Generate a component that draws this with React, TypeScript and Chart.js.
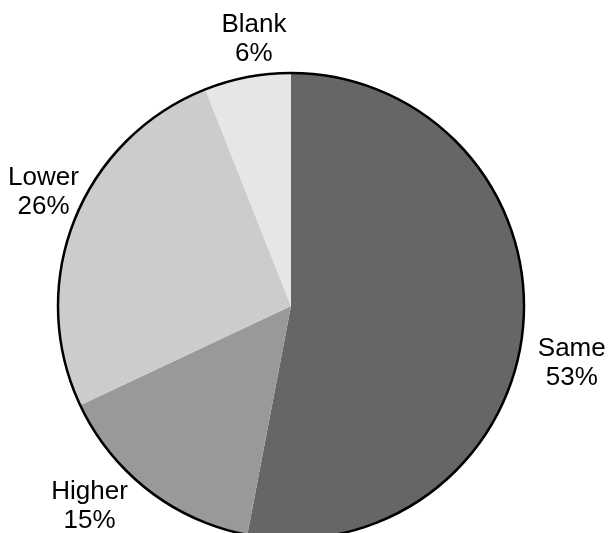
import React, { useEffect, useRef } from "react";
import { Chart, registerables } from "chart.js";

Chart.register(...registerables);

const categories = ["Same", "Higher", "Lower", "Blank"];
const shares = [53, 15, 26, 6];
const sliceColors = ["#666666", "#999999", "#cccccc", "#e6e6e6"];

// Extra shift (px) of each label block from its radial anchor
const labelShiftX = [4, -31, 11, 15];
const labelShiftY = [29, -21, -13, 4];

const W = 610;
const H = 560;

const outlineAndLabels = {
  id: "outlineAndLabels",
  afterDatasetsDraw(chart: any) {
    const ctx = chart.ctx as CanvasRenderingContext2D;
    const meta = chart.getDatasetMeta(0);
    const first = meta.data[0] as any;
    if (!first) return;
    const { x, y, outerRadius } = first.getProps(["x", "y", "outerRadius"], true);

    ctx.save();
    ctx.beginPath();
    ctx.arc(x, y, outerRadius, 0, Math.PI * 2);
    ctx.lineWidth = 2.5;
    ctx.strokeStyle = "#000";
    ctx.stroke();

    ctx.fillStyle = "#000";
    ctx.font = "26px 'Liberation Sans', Arial, sans-serif";
    ctx.textAlign = "center";
    ctx.textBaseline = "alphabetic";
    const capH = 18.6;
    const gap = 29;
    meta.data.forEach((arc: any, i: number) => {
      const p = arc.getProps(["startAngle", "endAngle"], true);
      const mid = (p.startAngle + p.endAngle) / 2;
      const dist = outerRadius + 45;
      const cx = x + dist * Math.cos(mid) + labelShiftX[i];
      const cy = y + dist * Math.sin(mid) + labelShiftY[i];
      const b1 = cy - (gap + capH) / 2 + capH;
      ctx.fillText(categories[i], cx, b1);
      ctx.fillText(`${shares[i]}%`, cx, b1 + gap);
    });
    ctx.restore();
  },
};

export default function App() {
  const canvasRef = useRef<HTMLCanvasElement | null>(null);

  useEffect(() => {
    if (!canvasRef.current) return;
    const chart = new Chart(canvasRef.current, {
      type: "pie",
      data: {
        labels: categories,
        datasets: [
          {
            data: shares,
            backgroundColor: sliceColors,
            borderWidth: 0,
          },
        ],
      },
      options: {
        responsive: false,
        animation: false,
        layout: { padding: { left: 58, top: 73, right: 86, bottom: 21 } },
        plugins: {
          legend: { display: false },
          tooltip: { enabled: false },
        },
      },
      plugins: [outlineAndLabels],
    });
    return () => chart.destroy();
  }, []);

  return (
    <div
      style={{
        position: "fixed",
        left: 0,
        top: 0,
        width: 610,
        height: 533,
        overflow: "hidden",
        background: "#fff",
      }}
    >
      <canvas ref={canvasRef} width={W} height={H} style={{ display: "block" }} />
    </div>
  );
}
